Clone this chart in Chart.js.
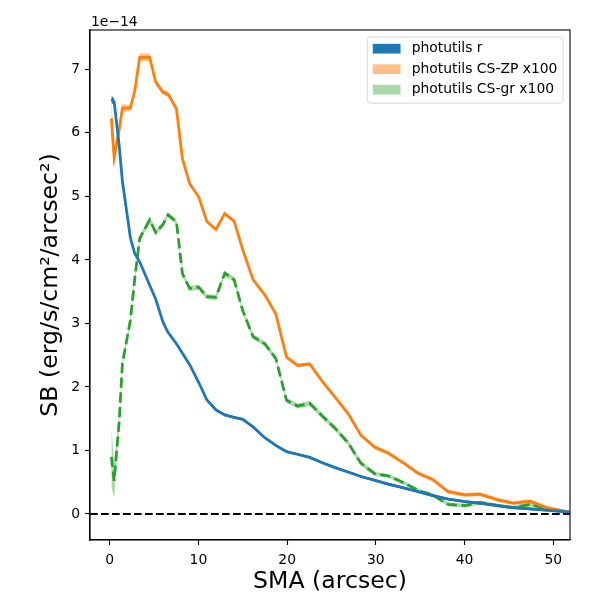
<!DOCTYPE html>
<html>
<head>
<meta charset="utf-8">
<script src="https://cdn.jsdelivr.net/npm/chart.js@4/dist/chart.umd.min.js"></script>
<style>
  html, body { margin: 0; padding: 0; background: #fff; }
  #wrap { width: 600px; height: 600px; }
</style>
</head>
<body>
<div id="wrap"><canvas id="sb" width="600" height="600"></canvas></div>
<script>
// semi-major axis (arcsec)
const SMA = [0.19, 0.5, 1.07, 1.43, 2.33, 2.82, 3.38, 4.51, 5.19, 6.01,
  6.57, 7.52, 8.2, 9.02, 10.04, 10.94, 11.96, 12.97, 14.02, 15.0,
  16.16, 17.48, 18.72, 19.93, 21.17, 22.56, 23.9, 25.4, 26.87, 28.31,
  29.89, 31.39, 33.16, 34.77, 36.39, 38.15, 40.03, 41.72, 43.79, 45.48,
  47.37, 49.25, 51.8];

// surface brightness, units of 1e-14
const SB_R = [6.53, 6.49, 5.8, 5.24, 4.35, 4.1, 3.97, 3.6, 3.38, 3.02,
  2.86, 2.68, 2.53, 2.35, 2.07, 1.80, 1.64, 1.56, 1.52, 1.49,
  1.37, 1.2, 1.08, 0.98, 0.94, 0.89, 0.81, 0.73, 0.66, 0.59,
  0.53, 0.47, 0.41, 0.35, 0.29, 0.235, 0.195, 0.17, 0.13, 0.10,
  0.08, 0.06, 0.03];
const SB_R_ERR = [0.06, 0.05, 0.03, 0.02, 0.02, 0.02, 0.02, 0.02, 0.02, 0.02,
  0.02, 0.02, 0.02, 0.02, 0.02, 0.02, 0.02, 0.02, 0.02, 0.02,
  0.02, 0.02, 0.02, 0.02, 0.02, 0.02, 0.02, 0.02, 0.02, 0.02,
  0.02, 0.02, 0.02, 0.02, 0.02, 0.02, 0.02, 0.02, 0.02, 0.02,
  0.02, 0.02, 0.02];

const SB_ZP = [6.23, 5.62, 6.05, 6.39, 6.39, 6.66, 7.19, 7.19, 6.8, 6.64,
  6.61, 6.38, 5.59, 5.2, 4.99, 4.61, 4.48, 4.73, 4.61, 4.16,
  3.69, 3.45, 3.15, 2.47, 2.34, 2.36, 2.1, 1.84, 1.58, 1.24,
  1.05, 0.96, 0.80, 0.64, 0.545, 0.35, 0.30, 0.31, 0.22, 0.17,
  0.20, 0.10, 0.03];
const SB_ZP_ERR = [0.36, 0.13, 0.08, 0.06, 0.05, 0.05, 0.06, 0.06, 0.05, 0.04,
  0.04, 0.04, 0.03, 0.03, 0.03, 0.03, 0.03, 0.03, 0.03, 0.03,
  0.03, 0.03, 0.03, 0.03, 0.03, 0.03, 0.03, 0.03, 0.03, 0.03,
  0.03, 0.03, 0.03, 0.03, 0.03, 0.03, 0.03, 0.03, 0.03, 0.03,
  0.03, 0.03, 0.02];

const SB_GR = [0.9, 0.52, 1.45, 2.37, 3.05, 3.7, 4.34, 4.63, 4.43, 4.56,
  4.71, 4.6, 3.78, 3.55, 3.57, 3.42, 3.41, 3.79, 3.69, 3.2,
  2.79, 2.68, 2.45, 1.79, 1.70, 1.74, 1.55, 1.35, 1.12, 0.80,
  0.63, 0.60, 0.49, 0.37, 0.30, 0.15, 0.13, 0.18, 0.13, 0.10,
  0.15, 0.08, 0.03];
const SB_GR_ERR = [0.47, 0.27, 0.1, 0.06, 0.05, 0.05, 0.05, 0.05, 0.04, 0.04,
  0.04, 0.04, 0.04, 0.04, 0.04, 0.04, 0.04, 0.04, 0.04, 0.04,
  0.04, 0.04, 0.04, 0.04, 0.04, 0.04, 0.04, 0.04, 0.04, 0.04,
  0.03, 0.03, 0.03, 0.03, 0.03, 0.03, 0.03, 0.03, 0.03, 0.03,
  0.03, 0.03, 0.02];

const LABELS = ['photutils r', 'photutils CS-ZP x100', 'photutils CS-gr x100'];
const X_TICKS = [0, 10, 20, 30, 40, 50];
const Y_TICKS = [0, 1, 2, 3, 4, 5, 6, 7];
const X_RANGE = [-2.22, 51.88];
const Y_RANGE = [-0.41, 7.62];

const BLUE = '#1f77b4', ORANGE = '#ff7f0e', GREEN = '#2ca02c';
const FONT = 'DejaVu Sans';

const pts = (ys) => SMA.map((x, i) => ({ x: x, y: ys[i] }));
const shift = (ys, err, sign) => ys.map((v, i) => v + sign * err[i]);

// a band is a lower edge plus an upper edge filled down to it
const band = (ys, err, fillColor) => [
  { data: pts(shift(ys, err, -1)), borderWidth: 0, pointRadius: 0, fill: false, order: 2 },
  { data: pts(shift(ys, err, 1)), borderWidth: 0, pointRadius: 0, fill: '-1',
    backgroundColor: fillColor, order: 2 },
];

const line = (ys, color, dash) => ({
  data: pts(ys), borderColor: color, borderWidth: 2.8, borderDash: dash || [],
  pointRadius: 0, tension: 0, fill: false, order: 1,
});

const datasets = [
  ...band(SB_R, SB_R_ERR, BLUE),
  ...band(SB_ZP, SB_ZP_ERR, 'rgba(255,127,14,0.5)'),
  ...band(SB_GR, SB_GR_ERR, 'rgba(44,160,44,0.4)'),
  line(SB_R, BLUE),
  line(SB_ZP, ORANGE),
  line(SB_GR, GREEN, [10.3, 4.4]),
  { data: [{ x: X_RANGE[0], y: 0 }, { x: X_RANGE[1], y: 0 }], borderColor: '#000',
    borderWidth: 2.1, borderDash: [7.7, 3.3], pointRadius: 0, fill: false, order: 0 },
];

const legendSwatches = [BLUE, 'rgba(255,127,14,0.5)', 'rgba(44,160,44,0.4)'];

// top/right spines, offset text and the in-axes legend
const decorations = {
  id: 'decorations',
  afterDraw(chart) {
    const { ctx, chartArea: a } = chart;
    ctx.save();
    ctx.strokeStyle = '#000';
    ctx.lineWidth = 1.1;
    ctx.strokeRect(a.left, a.top, a.right - a.left, a.bottom - a.top);

    ctx.fillStyle = '#000';
    ctx.font = '13.9px "' + FONT + '"';
    ctx.textBaseline = 'alphabetic';
    ctx.textAlign = 'left';
    ctx.fillText('1e\u221214', a.left + 1, a.top - 4);

    const fs = 13.9;
    const pad = 0.4 * fs, handleW = 2 * fs, handleH = 0.7 * fs, textPad = 0.8 * fs;
    const rowH = 20.5;
    const textW = Math.max(...LABELS.map(t => ctx.measureText(t).width));
    const w = pad + handleW + textPad + textW + pad;
    const h = 2 * pad + rowH * LABELS.length - 6.5;
    const x0 = a.right - 7 - w, y0 = a.top + 7;
    ctx.globalAlpha = 0.8;
    ctx.fillStyle = '#fff';
    ctx.strokeStyle = '#cccccc';
    ctx.lineWidth = 1;
    ctx.beginPath();
    ctx.roundRect(x0, y0, w, h, 3);
    ctx.fill();
    ctx.stroke();
    ctx.globalAlpha = 1;
    ctx.textBaseline = 'middle';
    LABELS.forEach((t, i) => {
      const cy = y0 + 11.7 + i * rowH;
      ctx.fillStyle = legendSwatches[i];
      ctx.fillRect(x0 + pad, cy - handleH / 2, handleW, handleH);
      ctx.fillStyle = '#000';
      ctx.fillText(t, x0 + pad + handleW + textPad, cy);
    });
    ctx.restore();
  },
};

const tickFont = { family: FONT, size: 13.9 };
const titleFont = { family: FONT, size: 23.6 };

new Chart(document.getElementById('sb'), {
  type: 'line',
  data: { datasets: datasets },
  options: {
    responsive: false,
    animation: false,
    layout: { padding: { top: 30, right: 30, left: 0, bottom: 0 } },
    plugins: { legend: { display: false }, tooltip: { enabled: false } },
    scales: {
      x: {
        type: 'linear',
        min: X_RANGE[0],
        max: X_RANGE[1],
        afterBuildTicks: (s) => { s.ticks = X_TICKS.map(v => ({ value: v })); },
        afterFit: (s) => { s.height = 60; },
        grid: { drawOnChartArea: false, drawTicks: true, tickLength: 5, color: '#000', tickWidth: 1.1 },
        border: { display: true, color: '#000', width: 1.1 },
        ticks: { font: tickFont, color: '#000', padding: 7, maxRotation: 0 },
        title: { display: true, text: 'SMA (arcsec)', font: titleFont, color: '#000',
          padding: { top: 0, bottom: 4 } },
      },
      y: {
        type: 'linear',
        min: Y_RANGE[0],
        max: Y_RANGE[1],
        afterBuildTicks: (s) => { s.ticks = Y_TICKS.map(v => ({ value: v })); },
        afterFit: (s) => { s.width = 90; },
        grid: { drawOnChartArea: false, drawTicks: true, tickLength: 5, color: '#000', tickWidth: 1.1 },
        border: { display: true, color: '#000', width: 1.1 },
        ticks: { font: tickFont, color: '#000', padding: 5 },
        title: { display: true, text: 'SB (erg/s/cm\u00b2/arcsec\u00b2)', font: titleFont, color: '#000',
          padding: { top: 37, bottom: 0 } },
      },
    },
  },
  plugins: [decorations],
});
</script>
</body>
</html>
